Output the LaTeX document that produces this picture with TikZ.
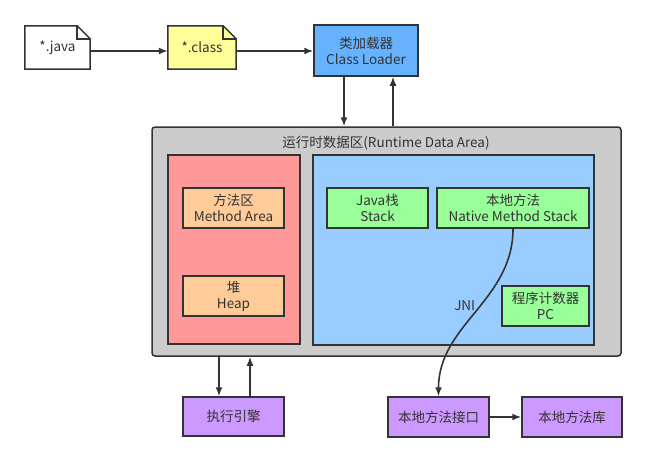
\documentclass[tikz,border=0pt]{standalone}
\usepackage{fontspec}
\setmainfont{Noto Sans CJK SC}
\usetikzlibrary{arrows.meta}
\definecolor{ink}{HTML}{333333}
\definecolor{classy}{HTML}{FFFF99}
\definecolor{loaderb}{HTML}{66B2FF}
\definecolor{areag}{HTML}{CCCCCC}
\definecolor{heapr}{HTML}{FF9999}
\definecolor{stackb}{HTML}{99CCFF}
\definecolor{methodo}{HTML}{FFCC99}
\definecolor{stackg}{HTML}{99FF99}
\definecolor{execp}{HTML}{CC99FF}
\begin{document}
\begin{tikzpicture}[x=1pt,y=-1pt,
    every node/.style={anchor=center,text=ink,font=\fontsize{13.5}{16}\selectfont,align=center},
    box/.style={draw=ink,line width=1.5pt,minimum width=#1,minimum height=40pt,inner sep=1pt},
    file/.style={minimum width=65pt,minimum height=43pt},
    link/.style={->,ink,line width=1.6pt},
    >={Latex[length=9pt,width=7pt]}]
  \useasboundingbox (0,0) rectangle (647,461);
  % runtime data area
  \node[draw=ink,fill=areag,line width=1.5pt,rounded corners=3pt,minimum width=469pt,minimum height=229pt] (area) at (386.5,241.5) {};
  \node (title) at (386,143) {运行时数据区(Runtime Data Area)};
  \node[box=132pt,fill=heapr,minimum height=189pt] (shared) at (234,249.5) {};
  \node[box=281pt,fill=stackb,minimum height=190pt] (private) at (453.5,250) {};
  \node[box=101pt,fill=methodo] (method) at (233.5,208) {方法区\\Method Area};
  \node[box=101pt,fill=methodo] (heap) at (233.5,296) {堆\\Heap};
  \node[box=101pt,fill=stackg] (jstack) at (377.5,208) {Java栈\\Stack};
  \node[box=152pt,fill=stackg] (nstack) at (513,208) {本地方法\\Native Method Stack};
  \node[box=87pt,fill=stackg] (pc) at (545.5,306) {程序计数器\\PC};
  % source files and loader
  \node[file] (javabox) at (57.5,47.5) {};
  \node[file,minimum width=68pt] (classbox) at (202,47.5) {};
  \draw[ink,line width=1.5pt] (javabox.south west) -- (javabox.north west) -- ([xshift=-13pt]javabox.north east) -- ([yshift=-13pt]javabox.north east) -- (javabox.south east) -- cycle;
  \draw[ink,line width=1.5pt,fill=classy] (classbox.south west) -- (classbox.north west) -- ([xshift=-13pt]classbox.north east) -- ([yshift=-13pt]classbox.north east) -- (classbox.south east) -- cycle;
  \draw[ink,line width=1.5pt] ([xshift=-13pt]javabox.north east) |- ([yshift=-13pt]javabox.north east);
  \draw[ink,line width=1.5pt] ([xshift=-13pt]classbox.north east) |- ([yshift=-13pt]classbox.north east);
  \node (java) at (javabox) {*.java};
  \node (class) at (classbox) {*.class};
  \node[box=104pt,fill=loaderb,minimum height=51pt] (loader) at (366,50.5) {类加载器\\Class Loader};
  % bottom boxes
  \node[box=101pt,fill=execp,minimum height=39pt] (engine) at (233.5,416.5) {执行引擎};
  \node[box=101pt,fill=execp] (jni) at (438.5,417) {本地方法接口};
  \node[box=100pt,fill=execp] (lib) at (572,417) {本地方法库};
  \coordinate (row) at (0,51);
  \coordinate (d1) at (344,0);
  \coordinate (u1) at (393,0);
  \coordinate (d2) at (219,0);
  \coordinate (u2) at (250,0);
  \draw[link] (javabox.east |- row) -- (classbox.west |- row);
  \draw[link] (classbox.east |- row) -- (loader.west |- row);
  \draw[link] (loader.south -| d1) -- (area.north -| d1);
  \draw[link] (area.north -| u1) -- (loader.south -| u1);
  \draw[link] (area.south -| d2) -- (engine.north -| d2);
  \draw[link] (engine.north -| u2) -- (area.south -| u2);
  \draw[link] (jni.east) -- (lib.west);
  \draw[link] (nstack.south) to[out=-90,in=90] node[pos=0.45,left=2pt] {JNI} (jni.north);
\end{tikzpicture}
\end{document}
